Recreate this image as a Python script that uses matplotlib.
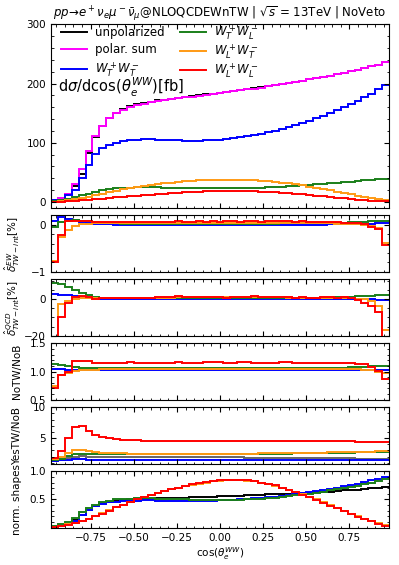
import numpy as np
import matplotlib
matplotlib.use("Agg")
import matplotlib.pyplot as plt
from matplotlib.ticker import MultipleLocator

# bin edges in cos(theta_e^WW), 49 bins of 0.04
edges = np.linspace(-0.98, 0.98, 50)

# main panel: dsigma/dcos [fb]
unpol = [3, 6, 13, 27, 48, 82, 110,
         129, 142, 151, 157, 161.5, 165, 167.5,
         169.5, 171.5, 173, 174.5, 176, 177.5, 179,
         180.5, 182, 183, 184.5, 186, 187.5, 189,
         190.5, 192, 193.5, 195.5, 197, 199, 201,
         203, 205, 207, 209, 211, 213.5, 216,
         218.5, 221, 223.5, 226, 229, 232, 236]
polsum = [3, 6, 14, 30, 55, 86, 112,
          129, 141, 150, 155, 160, 163, 166,
          168, 170, 172, 173.5, 175, 176.5, 178,
          179.5, 181, 182.5, 184, 185.5, 187, 188.5,
          190, 191.5, 193, 195, 197, 199, 201,
          203, 205, 207, 209, 211, 213.5, 216,
          218.5, 221, 223.5, 226, 229, 232, 236]
TT = [3, 4, 12, 21, 40, 63, 81,
      91, 97, 100, 103, 104, 105, 106,
      106, 105.5, 105, 104.5, 104, 103.5, 103.5,
      103.5, 104, 104.5, 105.5, 106.5, 108, 109.5,
      111, 113, 115, 117.5, 120, 123, 126,
      129.5, 133, 137, 141, 145.5, 150, 155,
      160, 165, 170.5, 176.5, 183, 190, 197]
TL = [1.5, 3, 5, 8, 11, 14, 17,
      19.5, 21.5, 22.8, 23.6, 24.1, 24.5, 24.7,
      24.7, 24.5, 24.3, 24, 23.7, 23.4, 23.2,
      23, 22.9, 22.8, 22.8, 22.9, 23, 23.2,
      23.5, 23.9, 24.3, 24.8, 25.4, 26, 26.7,
      27.4, 28.2, 29, 29.8, 30.7, 31.6, 32.5,
      33.4, 34.3, 35.3, 36.3, 37.3, 38.4, 39.6]
LT = [0.8, 1.5, 2.8, 4.5, 6.7, 9.2, 11.7,
      14.2, 16.7, 19.2, 21.5, 23.5, 25.4, 27.1,
      28.7, 30.2, 31.6, 32.8, 33.9, 34.8, 35.6,
      36.3, 36.9, 37.4, 37.7, 37.9, 37.9, 37.7,
      37.3, 36.7, 36, 35.1, 34, 32.7, 31.3,
      29.7, 27.9, 26, 24, 21.9, 19.7, 17.4,
      15.1, 12.8, 10.5, 8.4, 6.4, 4.5, 2.8]
LL = [0.4, 0.8, 1.3, 1.9, 2.7, 3.5, 4.5,
      5.5, 6.5, 7.6, 8.6, 9.6, 10.6, 11.5,
      12.5, 13.4, 14.2, 15, 15.7, 16.4, 17,
      17.5, 17.9, 18.3, 18.5, 18.7, 18.7, 18.6,
      18.4, 18, 17.6, 17, 16.4, 15.6, 14.8,
      13.8, 12.8, 11.8, 10.7, 9.6, 8.5, 7.4,
      6.3, 5.2, 4.2, 3.3, 2.4, 1.6, 1.0]

# EW TW-int correction [%]
ew_LL = [-0.79, -0.21, 0.07, 0.07, 0.08, 0.08, 0.06,
         0.05, 0.05, 0.06, 0.05, 0.06, 0.05, 0.06,
         0.06, 0.05, 0.06, 0.06, 0.07, 0.06, 0.06,
         0.07, 0.06, 0.07, 0.06, 0.07, 0.07, 0.06,
         0.07, 0.07, 0.06, 0.07, 0.08, 0.07, 0.07,
         0.06, 0.07, 0.06, 0.06, 0.05, 0.05, 0.05,
         0.04, 0.04, 0.03, 0.01, -0.04, -0.09, -0.42]
ew_LT = [-0.76, -0.26, -0.10, -0.03, 0.01, 0.02, 0.03,
         0.03, 0.03, 0.03, 0.03, 0.03, 0.03, 0.03,
         0.03, 0.03, 0.04, 0.03, 0.04, 0.04, 0.04,
         0.04, 0.04, 0.04, 0.04, 0.04, 0.04, 0.04,
         0.04, 0.04, 0.04, 0.04, 0.04, 0.04, 0.04,
         0.04, 0.03, 0.03, 0.03, 0.03, 0.03, 0.02,
         0.02, 0.02, 0.01, 0.0, -0.02, -0.06, -0.38]
ew_TL = [-0.05, 0.05, 0.08, 0.10, 0.09, 0.07, 0.05,
         0.04, 0.03, 0.03, 0.02, 0.02, 0.02, 0.02,
         0.02, 0.02, 0.02, 0.02, 0.02, 0.02, 0.02,
         0.02, 0.02, 0.02, 0.02, 0.02, 0.02, 0.02,
         0.02, 0.02, 0.02, 0.02, 0.02, 0.03, 0.03,
         0.03, 0.03, 0.03, 0.03, 0.03, 0.04, 0.04,
         0.04, 0.05, 0.05, 0.06, 0.07, 0.08, 0.08]
ew_TT = [0.08, 0.17, 0.13, 0.10, 0.06, 0.04, 0.02,
         0.01, 0.01, 0.0, 0.0, 0.0, 0.0, 0.0,
         0.0, 0.0, 0.0, 0.0, 0.0, 0.0, 0.0,
         0.0, 0.0, 0.0, 0.0, 0.0, 0.0, 0.0,
         0.0, 0.0, 0.0, 0.0, 0.0, 0.0, 0.0,
         0.0, 0.0, 0.0, 0.0, 0.0, 0.01, 0.01,
         0.01, 0.01, 0.02, 0.02, 0.02, 0.03, 0.03]

# QCD TW-int correction [%]
qcd_LL = [-30, -9.8, -2.0, 1.2, 1.8, 1.0, 0.0,
          0.5, 0.4, 0.6, 0.5, 0.7, 0.6, 0.8,
          0.7, 0.9, 1.2, 1.0, 1.5, 1.3, 1.0,
          1.1, 0.9, 1.2, 1.0, 0.8, 1.0, 1.3,
          1.0, 1.5, 1.2, 1.0, 0.9, 1.1, 1.0,
          0.8, 0.9, 0.7, 0.8, 0.9, 1.0, 0.8,
          1.0, 0.3, -0.6, -2.0, -3.8, -6.8, -30]
qcd_LT = [-25, -2.7, -1.3, 0.0, 0.3, 0.4, 0.4,
          0.4, 0.5, 0.5, 0.5, 0.6, 0.6, 0.6,
          0.7, 0.7, 0.8, 0.8, 0.9, 0.9, 0.9,
          1.0, 1.0, 1.0, 1.0, 1.0, 1.0, 1.0,
          1.0, 1.0, 0.9, 0.9, 0.9, 0.9, 0.8,
          0.8, 0.8, 0.7, 0.7, 0.7, 0.6, 0.6,
          0.5, 0.3, 0.0, -0.2, -0.8, -4.0, -16.8]
qcd_TL = [8.9, 8.2, 6.4, 5.0, 3.5, 2.3, 1.0,
          0.4, 0.3, 0.3, 0.3, 0.3, 0.3, 0.3,
          0.3, 0.3, 0.3, 0.3, 0.3, 0.3, 0.3,
          0.3, 0.3, 0.3, 0.3, 0.3, 0.3, 0.3,
          0.3, 0.3, 0.3, 0.4, 0.4, 0.4, 0.5,
          0.5, 0.5, 0.6, 0.6, 0.7, 0.8, 0.9,
          1.0, 1.2, 1.4, 1.6, 1.9, 2.1, 2.3]
qcd_TT = [2.7, 2.4, 2.0, 1.6, 1.2, 0.8, 0.4,
          0.2, 0.1, 0.0, 0.0, 0.0, 0.0, 0.0,
          0.0, 0.0, 0.0, 0.0, 0.0, 0.0, 0.0,
          0.0, 0.0, 0.0, 0.0, 0.0, 0.0, 0.0,
          0.0, 0.0, 0.0, 0.0, 0.0, 0.0, 0.0,
          0.0, 0.0, 0.0, 0.0, 0.0, 0.0, 0.0,
          0.0, 0.0, 0.0, -0.1, -0.2, -0.3, -0.3]

# NoTW / NoB
no_LL = [0.70, 0.93, 1.00, 1.19, 1.19, 1.19, 1.16,
         1.16, 1.16, 1.16, 1.16, 1.17, 1.16, 1.16,
         1.15, 1.16, 1.16, 1.16, 1.17, 1.16, 1.16,
         1.16, 1.17, 1.17, 1.17, 1.16, 1.16, 1.17,
         1.17, 1.16, 1.16, 1.16, 1.16, 1.17, 1.17,
         1.16, 1.16, 1.16, 1.16, 1.16, 1.15, 1.15,
         1.15, 1.15, 1.14, 1.13, 1.08, 1.01, 0.87]
no_LT = [0.74, 0.93, 0.98, 1.01, 1.02, 1.03, 1.03,
         1.04, 1.04, 1.04, 1.04, 1.04, 1.04, 1.04,
         1.04, 1.04, 1.04, 1.04, 1.04, 1.04, 1.04,
         1.04, 1.04, 1.04, 1.04, 1.04, 1.04, 1.04,
         1.04, 1.04, 1.04, 1.04, 1.04, 1.04, 1.04,
         1.04, 1.04, 1.04, 1.04, 1.04, 1.04, 1.04,
         1.04, 1.04, 1.04, 1.03, 1.02, 0.99, 0.97]
no_TL = [1.13, 1.12, 1.10, 1.08, 1.07, 1.07, 1.06,
         1.06, 1.06, 1.06, 1.06, 1.06, 1.06, 1.06,
         1.06, 1.06, 1.06, 1.06, 1.06, 1.06, 1.06,
         1.06, 1.06, 1.06, 1.06, 1.06, 1.06, 1.06,
         1.06, 1.06, 1.06, 1.06, 1.06, 1.06, 1.06,
         1.06, 1.06, 1.06, 1.07, 1.07, 1.07, 1.07,
         1.07, 1.08, 1.08, 1.08, 1.09, 1.09, 1.09]
no_TT = [1.04, 1.04, 1.03, 1.03, 1.03, 1.03, 1.03,
         1.03, 1.03, 1.03, 1.03, 1.03, 1.03, 1.03,
         1.03, 1.03, 1.03, 1.03, 1.03, 1.03, 1.03,
         1.03, 1.03, 1.03, 1.03, 1.03, 1.03, 1.03,
         1.03, 1.03, 1.03, 1.03, 1.03, 1.03, 1.03,
         1.03, 1.03, 1.03, 1.03, 1.03, 1.03, 1.03,
         1.03, 1.03, 1.03, 1.03, 1.03, 1.02, 1.02]

# YesTW / NoB
yes_LL = [1.8, 2.95, 5.1, 6.85, 7.0, 6.2, 5.5,
          5.2, 4.95, 4.85, 4.75, 4.7, 4.65, 4.6,
          4.6, 4.55, 4.55, 4.55, 4.5, 4.5, 4.5,
          4.5, 4.5, 4.5, 4.5, 4.5, 4.5, 4.5,
          4.5, 4.5, 4.5, 4.5, 4.5, 4.5, 4.5,
          4.5, 4.5, 4.5, 4.5, 4.5, 4.5, 4.5,
          4.5, 4.5, 4.45, 4.45, 4.45, 4.45, 4.4]
yes_LT = [1.7, 2.0, 2.6, 3.0, 3.1, 2.9, 2.75,
          2.65, 2.6, 2.55, 2.55, 2.5, 2.5, 2.5,
          2.5, 2.5, 2.5, 2.5, 2.5, 2.5, 2.5,
          2.5, 2.5, 2.5, 2.5, 2.5, 2.5, 2.5,
          2.5, 2.5, 2.55, 2.55, 2.55, 2.6, 2.6,
          2.6, 2.6, 2.65, 2.65, 2.65, 2.7, 2.7,
          2.7, 2.75, 2.75, 2.8, 2.8, 2.85, 2.85]
yes_TL = [1.4, 1.6, 2.1, 2.4, 2.5, 2.45, 2.4,
          2.35, 2.35, 2.35, 2.35, 2.35, 2.35, 2.35,
          2.35, 2.35, 2.35, 2.35, 2.35, 2.35, 2.35,
          2.35, 2.35, 2.35, 2.4, 2.4, 2.4, 2.4,
          2.4, 2.45, 2.45, 2.45, 2.5, 2.5, 2.5,
          2.55, 2.55, 2.55, 2.6, 2.6, 2.6, 2.65,
          2.65, 2.65, 2.7, 2.7, 2.7, 2.75, 2.75]
yes_unp = [1.3, 1.5, 1.8, 2.0, 2.05, 2.0, 1.95,
           1.95, 1.95, 1.95, 1.95, 1.95, 1.95, 1.95,
           1.95, 1.95, 1.95, 1.95, 1.95, 1.95, 1.9,
           1.9, 1.9, 1.9, 1.9, 1.9, 1.9, 1.9,
           1.85, 1.85, 1.85, 1.85, 1.85, 1.8, 1.8,
           1.8, 1.8, 1.8, 1.8, 1.75, 1.75, 1.75,
           1.75, 1.75, 1.7, 1.7, 1.7, 1.7, 1.7]
yes_TT = [1.3, 1.4, 1.5, 1.55, 1.55, 1.5, 1.5,
          1.5, 1.5, 1.5, 1.5, 1.5, 1.5, 1.5,
          1.5, 1.5, 1.5, 1.5, 1.5, 1.5, 1.5,
          1.5, 1.5, 1.5, 1.5, 1.5, 1.5, 1.5,
          1.5, 1.5, 1.5, 1.5, 1.5, 1.5, 1.5,
          1.5, 1.5, 1.5, 1.5, 1.5, 1.5, 1.5,
          1.5, 1.5, 1.45, 1.45, 1.45, 1.45, 1.45]

# normalised shapes
sh_unp = [0.01, 0.03, 0.06, 0.13, 0.22, 0.31, 0.38,
          0.43, 0.46, 0.48, 0.49, 0.50, 0.505, 0.51,
          0.515, 0.52, 0.52, 0.525, 0.53, 0.53, 0.535,
          0.54, 0.545, 0.55, 0.555, 0.56, 0.565, 0.57,
          0.575, 0.58, 0.585, 0.59, 0.595, 0.60, 0.605,
          0.61, 0.615, 0.62, 0.63, 0.635, 0.64, 0.65,
          0.66, 0.665, 0.675, 0.685, 0.695, 0.705, 0.715]
sh_TT = [0.015, 0.03, 0.07, 0.12, 0.22, 0.32, 0.38,
         0.42, 0.45, 0.46, 0.47, 0.475, 0.48, 0.485,
         0.485, 0.48, 0.48, 0.48, 0.475, 0.475, 0.475,
         0.475, 0.475, 0.48, 0.485, 0.49, 0.495, 0.50,
         0.51, 0.52, 0.53, 0.54, 0.55, 0.565, 0.58,
         0.595, 0.61, 0.63, 0.645, 0.665, 0.685, 0.71,
         0.73, 0.755, 0.78, 0.81, 0.84, 0.87, 0.905]
sh_TL = [0.03, 0.06, 0.10, 0.17, 0.27, 0.35, 0.405,
         0.45, 0.48, 0.50, 0.51, 0.515, 0.52, 0.52,
         0.52, 0.515, 0.51, 0.505, 0.50, 0.50, 0.495,
         0.49, 0.49, 0.49, 0.49, 0.49, 0.49, 0.495,
         0.50, 0.505, 0.51, 0.52, 0.53, 0.545, 0.56,
         0.575, 0.59, 0.605, 0.62, 0.64, 0.66, 0.68,
         0.70, 0.72, 0.74, 0.77, 0.80, 0.83, 0.87]
sh_LT = [0.02, 0.035, 0.06, 0.085, 0.12, 0.16, 0.21,
         0.26, 0.31, 0.36, 0.41, 0.46, 0.50, 0.54,
         0.58, 0.62, 0.65, 0.68, 0.71, 0.74, 0.76,
         0.78, 0.80, 0.82, 0.83, 0.84, 0.84, 0.84,
         0.83, 0.82, 0.80, 0.77, 0.74, 0.71, 0.67,
         0.63, 0.59, 0.54, 0.50, 0.45, 0.40, 0.35,
         0.30, 0.25, 0.20, 0.16, 0.12, 0.08, 0.04]
sh_LL = [0.02, 0.035, 0.055, 0.08, 0.11, 0.15, 0.20,
         0.25, 0.30, 0.36, 0.41, 0.46, 0.50, 0.54,
         0.58, 0.62, 0.65, 0.68, 0.71, 0.74, 0.77,
         0.79, 0.81, 0.83, 0.84, 0.85, 0.85, 0.85,
         0.84, 0.82, 0.80, 0.78, 0.75, 0.71, 0.67,
         0.63, 0.58, 0.54, 0.49, 0.44, 0.39, 0.34,
         0.29, 0.24, 0.19, 0.15, 0.11, 0.07, 0.03]

c_unp, c_sum, c_TT, c_TL, c_LT, c_LL = 'black', '#ff00ff', '#0000ff', '#1a7f1a', '#ff9a14', '#ff0000'
lw = 1.4

fig = plt.figure(figsize=(3.99, 5.65), dpi=100)
gs = fig.add_gridspec(6, 1, height_ratios=[3.25, 1, 1, 1, 1, 1],
                      left=0.128, right=0.975, top=0.957, bottom=0.066, hspace=0.096)
axs = [fig.add_subplot(gs[0])]
for k in range(1, 6):
    axs.append(fig.add_subplot(gs[k], sharex=axs[0]))

ax = axs[0]
h = []
h.append(ax.stairs(unpol, edges, baseline=None, color=c_unp, lw=lw, label='unpolarized'))
h.append(ax.stairs(polsum, edges, baseline=None, color=c_sum, lw=lw, label='polar. sum'))
h.append(ax.stairs(TT, edges, baseline=None, color=c_TT, lw=lw, label=r'$W^+_T W^-_T$'))
h.append(ax.stairs(TL, edges, baseline=None, color=c_TL, lw=lw, label=r'$W^+_T W^-_L$'))
h.append(ax.stairs(LT, edges, baseline=None, color=c_LT, lw=lw, label=r'$W^+_L W^-_T$'))
h.append(ax.stairs(LL, edges, baseline=None, color=c_LL, lw=lw, label=r'$W^+_L W^-_L$'))
ax.set_ylim(-10, 300)
ax.yaxis.set_major_locator(MultipleLocator(100))
ax.yaxis.set_minor_locator(MultipleLocator(20))

# two columns as two legends so the rows line up
leg_kw = dict(loc='upper left', frameon=False, fontsize=8.5, handlelength=2.2,
              borderaxespad=0.0, borderpad=0.1, handletextpad=0.7)
leg1 = ax.legend(handles=h[:3], bbox_to_anchor=(0.025, 0.995), labelspacing=0.33, **leg_kw)
ax.add_artist(leg1)
ax.legend(handles=h[3:], bbox_to_anchor=(0.378, 1.01), labelspacing=0.0, **leg_kw)

ax.text(0.02, 0.655, r'd$\sigma$/dcos($\theta_e^{WW}$)[fb]', transform=ax.transAxes,
        fontsize=10.5, va='center')
ax.set_title(r'$pp\!\to\! e^+\nu_e\mu^-\bar{\nu}_\mu$@NLOQCDEWnTW | $\sqrt{s}$ = 13TeV | NoVeto',
             fontsize=8.5, pad=3)

ax = axs[1]
for vals, col in [(ew_TT, c_TT), (ew_TL, c_TL), (ew_LT, c_LT), (ew_LL, c_LL)]:
    ax.stairs(vals, edges, baseline=None, color=col, lw=lw)
ax.set_ylim(-1, 0.2)
ax.set_yticks([-1, 0])
ax.yaxis.set_minor_locator(MultipleLocator(0.2))
ax.set_ylabel(r'$\hat{\delta}^{EW}_{TW-int}$[%]', fontsize=7.5)

ax = axs[2]
for vals, col in [(qcd_TT, c_TT), (qcd_TL, c_TL), (qcd_LT, c_LT), (qcd_LL, c_LL)]:
    ax.stairs(vals, edges, baseline=None, color=col, lw=lw)
ax.set_ylim(-20, 10.7)
ax.set_yticks([-20, 0])
ax.yaxis.set_minor_locator(MultipleLocator(5))
ax.set_ylabel(r'$\hat{\delta}^{QCD}_{TW-int}$[%]', fontsize=7.5)

ax = axs[3]
for vals, col in [(no_TT, c_TT), (no_TL, c_TL), (no_LT, c_LT), (no_LL, c_LL)]:
    ax.stairs(vals, edges, baseline=None, color=col, lw=lw)
ax.set_ylim(0.5, 1.5)
ax.set_yticks([0.5, 1.0, 1.5])
ax.yaxis.set_minor_locator(MultipleLocator(0.1))
ax.set_ylabel('NoTW/NoB', fontsize=7.5)

ax = axs[4]
ax.stairs(yes_unp, edges, baseline=None, color=c_unp, lw=lw, alpha=0.6)
for vals, col in [(yes_TT, c_TT), (yes_TL, c_TL), (yes_LT, c_LT), (yes_LL, c_LL)]:
    ax.stairs(vals, edges, baseline=None, color=col, lw=lw)
ax.set_ylim(0.85, 10)
ax.set_yticks([5, 10])
ax.yaxis.set_minor_locator(MultipleLocator(1))
ax.set_ylabel('YesTW/NoB', fontsize=7.5)

ax = axs[5]
for vals, col in [(sh_unp, c_unp), (sh_TT, c_TT), (sh_TL, c_TL), (sh_LT, c_LT), (sh_LL, c_LL)]:
    ax.stairs(vals, edges, baseline=None, color=col, lw=lw)
ax.set_ylim(0, 1.0)
ax.set_yticks([0.5, 1.0])
ax.yaxis.set_minor_locator(MultipleLocator(0.1))
ax.set_ylabel('norm. shapes', fontsize=7.5)
ax.set_xlabel(r'cos($\theta_e^{WW}$)', fontsize=7.5, labelpad=2)

for i, ax in enumerate(axs):
    ax.set_xlim(-0.98, 0.98)
    ax.xaxis.set_major_locator(MultipleLocator(0.25))
    ax.xaxis.set_minor_locator(MultipleLocator(0.05))
    ax.tick_params(which='both', direction='in', top=True, right=True, labelsize=7.5)
    ax.tick_params(which='major', length=3.5)
    ax.tick_params(which='minor', length=1.8)
    if i < 5:
        ax.tick_params(labelbottom=False)
    if i > 0:
        ax.yaxis.set_label_coords(-0.085, 0.5)

fig.savefig('out.png', dpi=100)
